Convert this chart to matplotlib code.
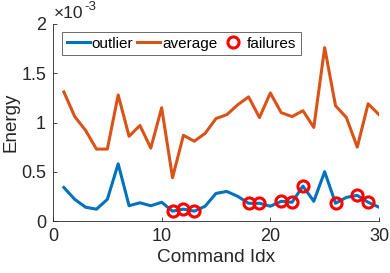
import numpy as np
import matplotlib.pyplot as plt
from matplotlib.ticker import FuncFormatter

plt.rcParams['font.family'] = ['Liberation Sans', 'DejaVu Sans']

cmd_idx = np.arange(1, 31)
outlier = [0.34, 0.22, 0.14, 0.12, 0.22, 0.58, 0.155, 0.185, 0.155, 0.19,
           0.10, 0.12, 0.10, 0.15, 0.28, 0.30, 0.25, 0.18, 0.18, 0.15,
           0.20, 0.19, 0.355, 0.20, 0.50, 0.18, 0.24, 0.26, 0.19, 0.14]
average = [1.31, 1.06, 0.92, 0.73, 0.73, 1.28, 0.86, 0.97, 0.74, 1.15,
           0.44, 0.87, 0.81, 0.89, 1.04, 1.08, 1.18, 1.26, 1.05, 1.30,
           1.10, 1.06, 1.12, 0.95, 1.76, 1.17, 1.05, 0.75, 1.19, 1.08]
fail_idx = [11, 12, 13, 18, 19, 21, 22, 23, 26, 28, 29]

outlier = np.array(outlier) * 1e-3
average = np.array(average) * 1e-3
fail_vals = outlier[np.array(fail_idx) - 1]

W, H = 390, 273
fig = plt.figure(figsize=(W / 100, H / 100), dpi=100)
ax = fig.add_axes([53 / W, 1 - 221 / H, 326 / W, 197 / H])

ax.plot(cmd_idx, outlier, color='#0072BD', lw=2.2, label='outlier')
ax.plot(cmd_idx, average, color='#D95319', lw=2.2, label='average')
ax.plot(fail_idx, fail_vals, 'o', mfc='none', mec='#FF0000', mew=2.2, ms=8,
        label='failures')

ax.set_xlim(0, 30)
ax.set_ylim(0, 2e-3)
ax.set_xticks([0, 10, 20, 30])
ax.set_yticks([0, 0.5e-3, 1e-3, 1.5e-3, 2e-3])
ax.yaxis.set_major_formatter(FuncFormatter(lambda v, _: f"{v*1e3:g}"))

for s in ['top', 'right']:
    ax.spines[s].set_visible(False)
for s in ['left', 'bottom']:
    ax.spines[s].set_color('#262626')
    ax.spines[s].set_linewidth(0.6)
ax.tick_params(direction='in', length=3, width=0.6, colors='#262626',
               labelsize=13, pad=5)

ax.set_xlabel('Command Idx', fontsize=13.7, color='#262626', labelpad=3)
ax.set_ylabel('Energy', fontsize=13.5, color='#262626', labelpad=1)

leg = ax.legend(loc='upper left', ncol=3, fontsize=11, frameon=True,
                fancybox=False, edgecolor='#262626', handlelength=1.5,
                handletextpad=0.15, columnspacing=0.25, borderpad=0.3,
                borderaxespad=0, bbox_to_anchor=(9 / 326, 1 - 8 / 197))
leg.get_frame().set_linewidth(0.6)

# exponent label, matlab style
base = fig.text(54 / W, 1 - 18 / H, '×10', fontsize=12.5, color='#262626',
                va='baseline', ha='left')
fig.canvas.draw()
bb = base.get_window_extent()
fig.text(bb.x1 / W + 0.002, 1 - 10 / H, '-3', fontsize=9.5, color='#262626',
         va='baseline', ha='left')

fig.savefig('out.png', dpi=100)
